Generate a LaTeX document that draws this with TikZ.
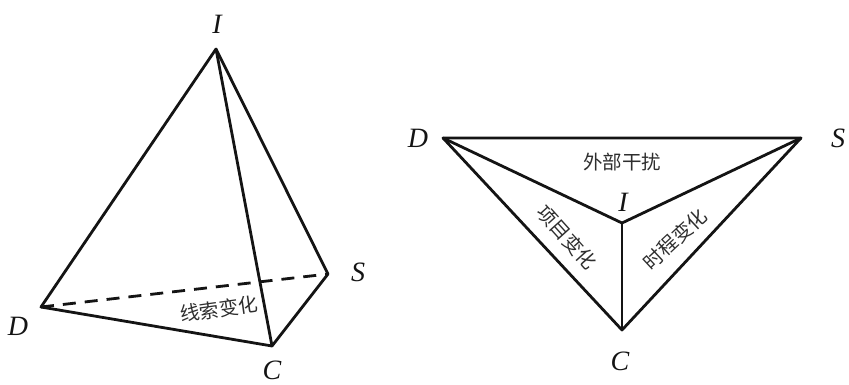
\documentclass[tikz,border=0pt]{standalone}
\usepackage{fontspec}
\setmainfont{Liberation Serif}
\newfontfamily\cjk{Noto Sans CJK SC}
\definecolor{inkc}{gray}{0.08}
\definecolor{cnc}{gray}{0.18}
\begin{document}
\begin{tikzpicture}[x=1pt,y=-1pt,
  edge/.style={line width=2.8pt,line join=round,color=inkc},
  lab/.style={font=\itshape\fontsize{28}{28}\selectfont,inner sep=0pt,text=inkc},
  cn/.style={font=\cjk\fontsize{19.5}{19.5}\selectfont,inner sep=0pt,text=cnc}]
\useasboundingbox (0,0) rectangle (849,385);
\coordinate (I1) at (216,49);
\coordinate (D1) at (41,307);
\coordinate (C1) at (272,346);
\coordinate (S1) at (328,274);
\draw[edge] (I1)--(D1)--(C1)--(S1)--cycle;
\draw[edge] (I1)--(C1);
\draw[edge,dash pattern=on 13pt off 9pt] (D1)--(S1);
\node[lab] (lI1) at (217,24) {I};
\node[lab] (lD1) at (18,326) {D};
\node[lab] (lC1) at (272,370) {C};
\node[lab] (lS1) at (358,272) {S};
\node[cn,rotate=8] (t1) at (219,309) {线索变化};
\coordinate (D2) at (443,138);
\coordinate (S2) at (801,138);
\coordinate (I2) at (622,223);
\coordinate (C2) at (622,330);
\draw[edge] (D2)--(S2)--(C2)--cycle;
\draw[edge] (D2)--(I2)--(S2);
\draw[edge] (I2)--(C2);
\node[lab] (lD2) at (418,138) {D};
\node[lab] (lS2) at (838,138) {S};
\node[lab] (lI2) at (623,202) {I};
\node[lab] (lC2) at (620,361) {C};
\node[cn] (t2) at (622,162) {外部干扰};
\node[cn,rotate=-48] (t3) at (567,237) {项目变化};
\node[cn,rotate=43] (t4) at (675,239) {时程变化};
\end{tikzpicture}
\end{document}
